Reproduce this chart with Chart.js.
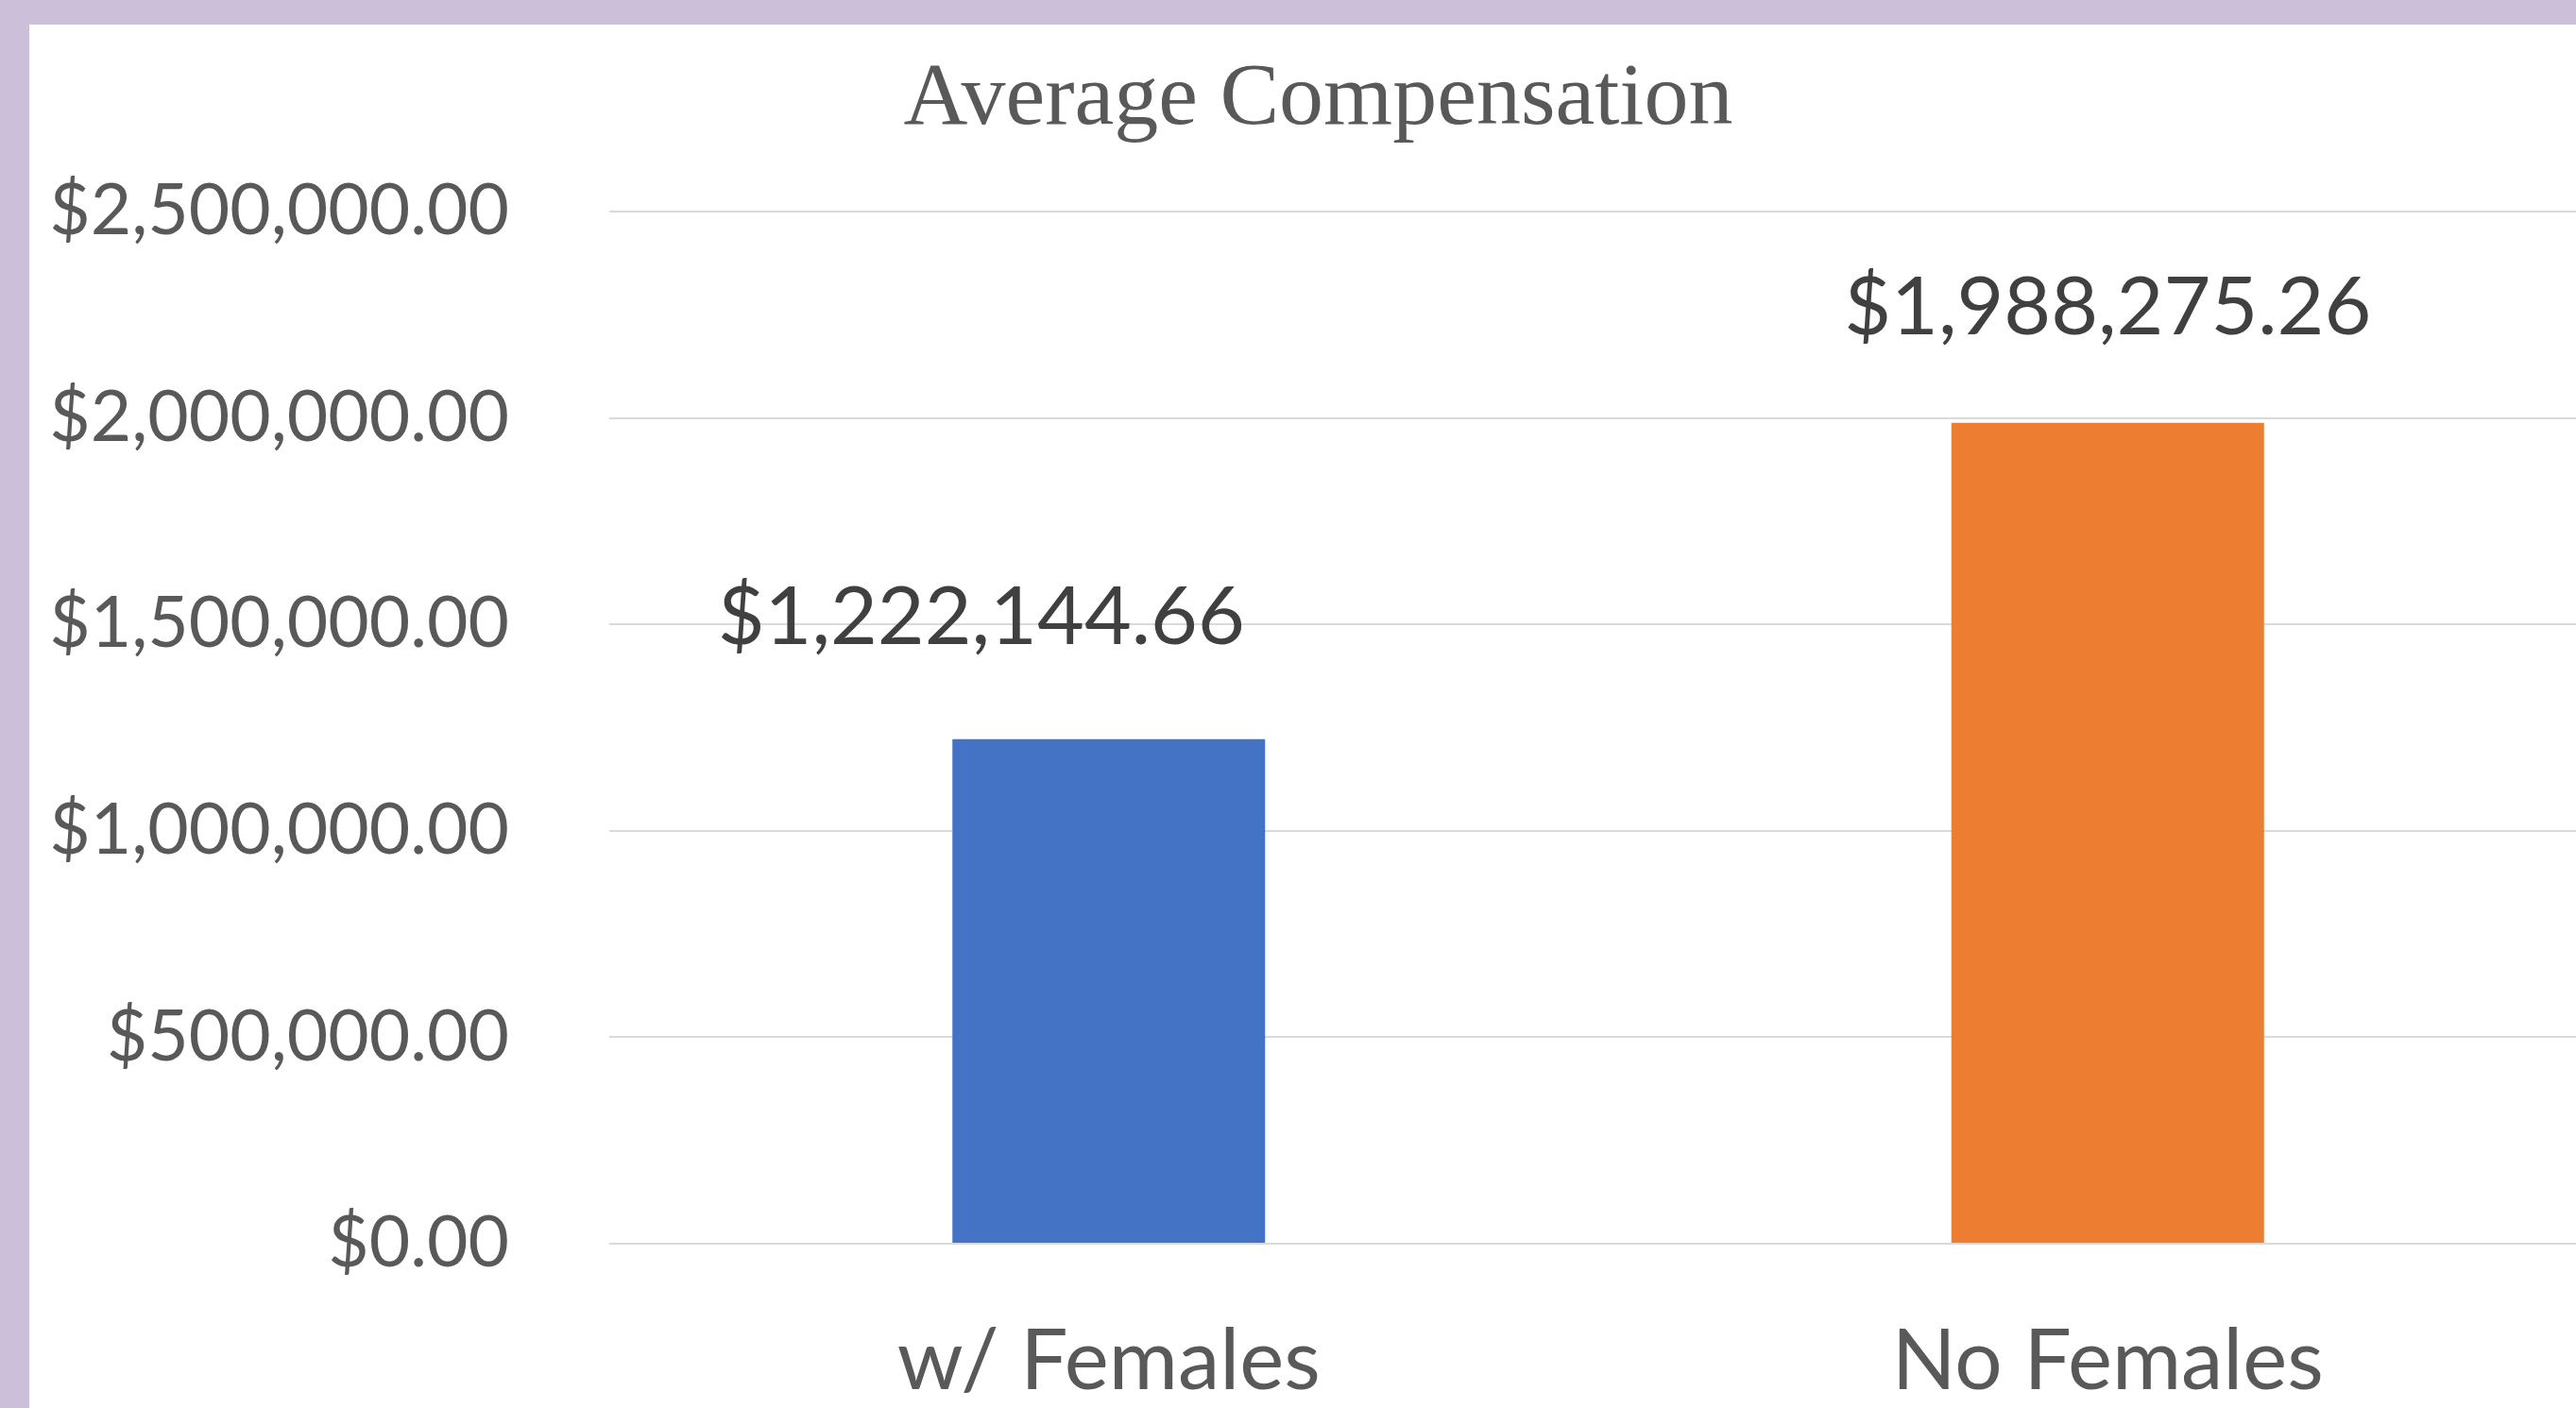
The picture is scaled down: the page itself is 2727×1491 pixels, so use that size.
<!DOCTYPE html>
<html>
<head>
<meta charset="utf-8">
<script src="https://cdn.jsdelivr.net/npm/chart.js@4"></script>
<style>
  html, body { margin: 0; padding: 0; overflow: hidden; width: 2727px; height: 1491px; background: #CCBFD9; }
  #wrap { position: absolute; left: 31px; top: 26px; width: 2729px; height: 1500px; background: #ffffff; }
</style>
</head>
<body>
<div id="wrap"><canvas id="graficoComp"></canvas></div>
<script>
  const categorias = ['w/ Females', 'No Females'];
  const valores = [1222144.66, 1988275.26];
  const cores = ['#4472C4', '#ED7D31'];
  const ticksY = [0, 500000, 1000000, 1500000, 2000000, 2500000];

  function moeda(v) {
    return '$' + v.toLocaleString('en-US', { minimumFractionDigits: 2, maximumFractionDigits: 2 });
  }

  // rotulos de dados acima das barras (o primeiro foi arrastado para a esquerda no original)
  const rotulos = {
    id: 'rotulos',
    afterDatasetsDraw(chart, args, opts) {
      const ctx = chart.ctx;
      const meta = chart.getDatasetMeta(0);
      ctx.save();
      ctx.font = opts.size + 'px ' + opts.family;
      ctx.fillStyle = opts.color;
      ctx.textAlign = 'center';
      ctx.textBaseline = 'middle';
      meta.data.forEach((bar, i) => {
        const off = opts.offsets[i];
        ctx.fillText(moeda(valores[i]), bar.x + off[0], bar.y - off[1]);
      });
      ctx.restore();
    }
  };

  let ctxComp = document.getElementById('graficoComp');
  let config = {
    type: 'bar',
    data: {
      labels: categorias,
      datasets: [{
        label: 'Average Compensation',
        data: valores,
        backgroundColor: cores,
        borderWidth: 0,
        categoryPercentage: 1,
        barPercentage: 0.313
      }]
    },
    options: {
      responsive: true,
      maintainAspectRatio: false,
      animation: false,
      layout: { padding: 0 },
      plugins: {
        legend: { display: false },
        tooltip: { enabled: false },
        title: {
          display: true,
          text: 'Average Compensation',
          color: '#595959',
          font: { family: 'Liberation Serif', size: 94, weight: 'normal', lineHeight: 1.2 },
          padding: { top: 24, bottom: 61.2 }
        },
        rotulos: {
          family: 'Lato',
          size: 86,
          color: '#404040',
          offsets: [[-135, 128], [0, 121]]
        }
      },
      scales: {
        x: {
          grid: { display: false, drawTicks: false },
          border: { display: false },
          ticks: {
            color: '#595959',
            font: { family: 'Lato', size: 89, lineHeight: 1.2 },
            padding: 72
          },
          afterFit(scale) { scale.height = 209; }
        },
        y: {
          min: 0,
          max: 2500000,
          grid: { color: '#D9D9D9', lineWidth: 2, drawTicks: false },
          border: { display: false },
          afterBuildTicks(scale) { scale.ticks = ticksY.map(v => ({ value: v })); },
          ticks: {
            color: '#595959',
            font: { family: 'Lato', size: 75 },
            padding: 106,
            callback: (v) => moeda(v)
          },
          afterFit(scale) { scale.width = 614; }
        }
      }
    },
    plugins: [rotulos]
  };
  let chartComp = new Chart(ctxComp, config);
</script>
</body>
</html>
